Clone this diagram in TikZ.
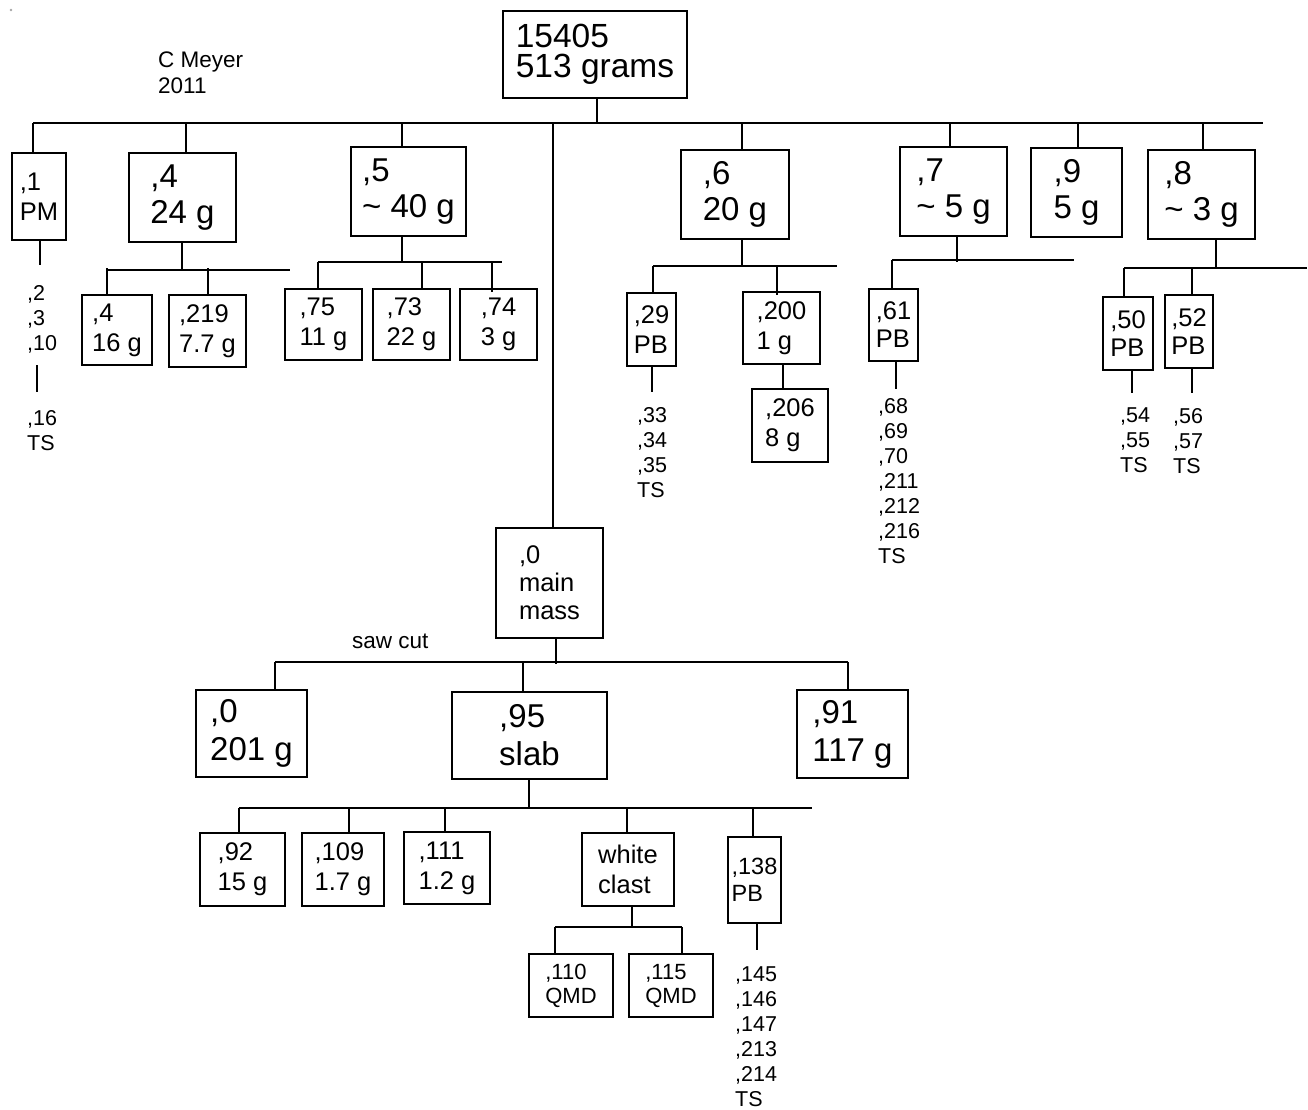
\documentclass[tikz,border=0pt]{standalone}
\usepackage{fontspec}
\setmainfont{Liberation Sans}
\begin{document}
\begin{tikzpicture}[x=1pt,y=-1pt,
  wire/.style={line width=1.8pt},
  box/.style={draw, line width=1.8pt, inner sep=0pt, align=left, anchor=center},
  fbig/.style={font=\fontsize{33.5}{30}\selectfont},
  fmed/.style={font=\fontsize{33}{36}\selectfont},
  fmedb/.style={font=\fontsize{33}{38}\selectfont},
  fsm/.style={font=\fontsize{25.5}{30}\selectfont},
  fsmb/.style={font=\fontsize{25.5}{28}\selectfont},
  fpb/.style={font=\fontsize{23.5}{27}\selectfont},
  fqmd/.style={font=\fontsize{22}{24}\selectfont},
  lst/.style={font=\fontsize{21.5}{25}\selectfont, inner sep=0pt, align=left, anchor=north west},
  bx/.style 2 args={minimum width=#1pt, minimum height=#2pt}
]
\useasboundingbox (0,0) rectangle (1308,1110);
\fill[gray!70] (11,10) circle (1.3pt);

% texts
\node[font=\fontsize{22.5}{26}\selectfont, inner sep=0pt, align=left, anchor=north west] (author) at (158,52) {C Meyer\\2011};
\node[font=\fontsize{22.5}{26}\selectfont, inner sep=0pt, anchor=base west] (saw) at (352,648) {saw cut};

% boxes
\node[box, fbig, bx={184}{87}] (root) at (595,54.5) {15405\\513 grams};
\node[box, fsm, bx={54}{87}] (b1) at (39,196.5) {,1\\PM};
\node[box, fmed, bx={107}{89}] (b4) at (182.5,197.5) {,4\\24 g};
\node[box, fmed, bx={115}{89}] (b5) at (408.5,191.5) {,5\\\textasciitilde{} 40 g};
\node[box, fmed, bx={108}{89}] (b6) at (735,194.5) {,6\\20 g};
\node[box, fmed, bx={107}{89}] (b7) at (953.5,191.5) {,7\\\textasciitilde{} 5 g};
\node[box, fmed, bx={91}{89}] (b9) at (1076.5,192.5) {,9\\5 g};
\node[box, fmed, bx={107}{89}] (b8) at (1201.5,194.5) {,8\\\textasciitilde{} 3 g};

\node[box, fsm, bx={70}{70}] (b4a) at (117,330) {,4\\16 g};
\node[box, fsm, bx={77}{72}] (b219) at (207.5,331) {,219\\7.7 g};
\node[box, fsm, bx={77}{71}] (b75) at (323.5,324.5) {,75\\11 g};
\node[box, fsm, bx={77}{71}] (b73) at (411.5,324.5) {,73\\22 g};
\node[box, fsm, bx={77}{71}] (b74) at (498.5,324.5) {,74\\3 g};
\node[box, fsm, bx={49}{73}] (b29) at (651.5,329.5) {,29\\PB};
\node[box, fsm, bx={77}{72}] (b200) at (781.5,328) {,200\\1 g};
\node[box, fsm, bx={76}{73}] (b206) at (790,425.5) {,206\\8 g};
\node[box, fsmb, bx={49}{72}] (b61) at (893.5,325) {,61\\PB};
\node[box, fsmb, bx={50}{73}] (b50) at (1128,333.5) {,50\\PB};
\node[box, fsmb, bx={48}{73}] (b52) at (1189,331.5) {,52\\PB};

\node[box, fsmb, bx={107}{110}] (mm) at (549.5,583) {,0\\main\\mass};
\node[box, fmedb, bx={111}{87}] (b0) at (251.5,733.5) {,0\\201 g};
\node[box, fmedb, bx={155}{87}] (b95) at (529.5,735.5) {,95\\slab};
\node[box, fmedb, bx={111}{88}] (b91) at (852.5,734) {,91\\117 g};

\node[box, fsm, bx={85}{73}] (b92) at (242.5,869.5) {,92\\15 g};
\node[box, fsm, bx={82}{73}] (b109) at (343,869.5) {,109\\1.7 g};
\node[box, fsm, bx={86}{72}] (b111) at (447,868) {,111\\1.2 g};
\node[box, fsm, bx={92}{73}] (bwc) at (628,869.5) {white\\clast};
\node[box, fpb, bx={53}{86}] (b138) at (754.5,880) {,138\\PB};
\node[box, fqmd, bx={84}{63}] (b110) at (571,985.5) {,110\\QMD};
\node[box, fqmd, bx={84}{63}] (b115) at (671,985.5) {,115\\QMD};

% lists
\node[lst] (l1a) at (27,285) {,2\\,3\\,10};
\node[lst] (l1b) at (27,410) {,16\\TS};
\node[lst] (l29) at (637,407) {,33\\,34\\,35\\TS};
\node[lst] (l61) at (878,398) {,68\\,69\\,70\\,211\\,212\\,216\\TS};
\node[lst] (l50) at (1120,408) {,54\\,55\\TS};
\node[lst] (l52) at (1173,408) {,56\\,57\\TS};
\node[lst] (l138) at (735,966) {,145\\,146\\,147\\,213\\,214\\TS};

% top bus
\coordinate (tL) at (33,123);
\coordinate (tR) at (1263,123);
\draw[wire] (tL) -- (tR);
\draw[wire] (root.south -| 597,0) -- (tL -| 597,0);
\coordinate (tM) at (553,123);
\draw[wire] (tM) -- (tM |- mm.north);
\coordinate (t4) at (186,123);
\coordinate (t5) at (402,123);
\coordinate (t6) at (742,123);
\coordinate (t7) at (950,123);
\coordinate (t9) at (1078,123);
\coordinate (t8) at (1203,123);
\draw[wire] (tL) -- (tL |- b1.north);
\foreach \c/\b in {t4/b4, t5/b5, t6/b6, t7/b7, t9/b9, t8/b8}
  \draw[wire] (\c) -- (\c |- \b.north);

% ,1
\coordinate (u1) at (40,265);
\draw[wire] (u1 |- b1.south) -- (u1);
\coordinate (v1a) at (37,365);
\coordinate (v1b) at (37,392);
\draw[wire] (v1a) -- (v1b);

% ,4
\coordinate (m4) at (182,270);
\coordinate (h4L) at (107,268);
\coordinate (h4R) at (290,270);
\coordinate (s219) at (208,268);
\draw[wire] (m4 |- b4.south) -- (m4);
\draw[wire] (h4L |- m4) -- (h4R);
\draw[wire] (h4L) -- (h4L |- b4a.north);
\draw[wire] (s219) -- (s219 |- b219.north);

% ,5
\coordinate (m5) at (402,262);
\coordinate (h5L) at (318,262);
\coordinate (h5R) at (502,262);
\coordinate (s73) at (422,262);
\coordinate (s74) at (492,262);
\coordinate (e74) at (492,292);
\draw[wire] (m5 |- b5.south) -- (m5);
\draw[wire] (h5L) -- (h5R);
\draw[wire] (h5L) -- (h5L |- b75.north);
\draw[wire] (s73) -- (s73 |- b73.north);
\draw[wire] (s74) -- (e74);

% ,6
\coordinate (m6) at (742,266);
\coordinate (h6L) at (653,266);
\coordinate (h6R) at (837,266);
\coordinate (s200) at (777,266);
\coordinate (e200) at (777,295);
\draw[wire] (m6 |- b6.south) -- (m6);
\draw[wire] (h6L) -- (h6R);
\draw[wire] (h6L) -- (h6L |- b29.north);
\draw[wire] (s200) -- (e200);
\coordinate (m200) at (783,380);
\draw[wire] (m200 |- b200.south) -- (m200 |- b206.north);
\coordinate (e29) at (652,392);
\draw[wire] (e29 |- b29.south) -- (e29);

% ,7
\coordinate (m7) at (957,262);
\coordinate (h7L) at (892,260);
\coordinate (h7R) at (1074,260);
\draw[wire] (m7 |- b7.south) -- (m7);
\draw[wire] (h7L) -- (h7R);
\draw[wire] (h7L) -- (h7L |- b61.north);
\coordinate (e61) at (896,389);
\draw[wire] (e61 |- b61.south) -- (e61);

% ,8
\coordinate (m8) at (1216,268);
\coordinate (h8L) at (1124,268);
\coordinate (h8R) at (1307,268);
\coordinate (s52) at (1192,268);
\draw[wire] (m8 |- b8.south) -- (m8);
\draw[wire] (h8L) -- (h8R);
\draw[wire] (h8L) -- (h8L |- b50.north);
\draw[wire] (s52) -- (s52 |- b52.north);
\coordinate (e50) at (1132,393);
\coordinate (e52) at (1192,393);
\draw[wire] (e50 |- b50.south) -- (e50);
\draw[wire] (e52 |- b52.south) -- (e52);

% main mass
\coordinate (mmm) at (556,664);
\coordinate (hmL) at (275,662);
\coordinate (hmR) at (848,662);
\coordinate (s95) at (523,662);
\draw[wire] (mmm |- mm.south) -- (mmm);
\draw[wire] (hmL) -- (hmR);
\draw[wire] (hmL) -- (hmL |- b0.north);
\draw[wire] (s95) -- (s95 |- b95.north);
\draw[wire] (hmR) -- (hmR |- b91.north);

% slab
\coordinate (m95) at (529,808);
\coordinate (h95L) at (239,808);
\coordinate (h95R) at (812,808);
\coordinate (s109) at (349,808);
\coordinate (s111) at (445,808);
\coordinate (swc) at (627,808);
\coordinate (s138) at (753,808);
\draw[wire] (m95 |- b95.south) -- (m95);
\draw[wire] (h95L) -- (h95R);
\draw[wire] (h95L) -- (h95L |- b92.north);
\draw[wire] (s109) -- (s109 |- b109.north);
\draw[wire] (s111) -- (s111 |- b111.north);
\draw[wire] (swc) -- (swc |- bwc.north);
\draw[wire] (s138) -- (s138 |- b138.north);

% white clast
\coordinate (mwc) at (632,927);
\coordinate (hwL) at (555,927);
\coordinate (hwR) at (682,927);
\draw[wire] (mwc |- bwc.south) -- (mwc);
\draw[wire] (hwL) -- (hwR);
\draw[wire] (hwL) -- (hwL |- b110.north);
\draw[wire] (hwR) -- (hwR |- b115.north);

% ,138
\coordinate (e138) at (757,950);
\draw[wire] (e138 |- b138.south) -- (e138);
\end{tikzpicture}
\end{document}
